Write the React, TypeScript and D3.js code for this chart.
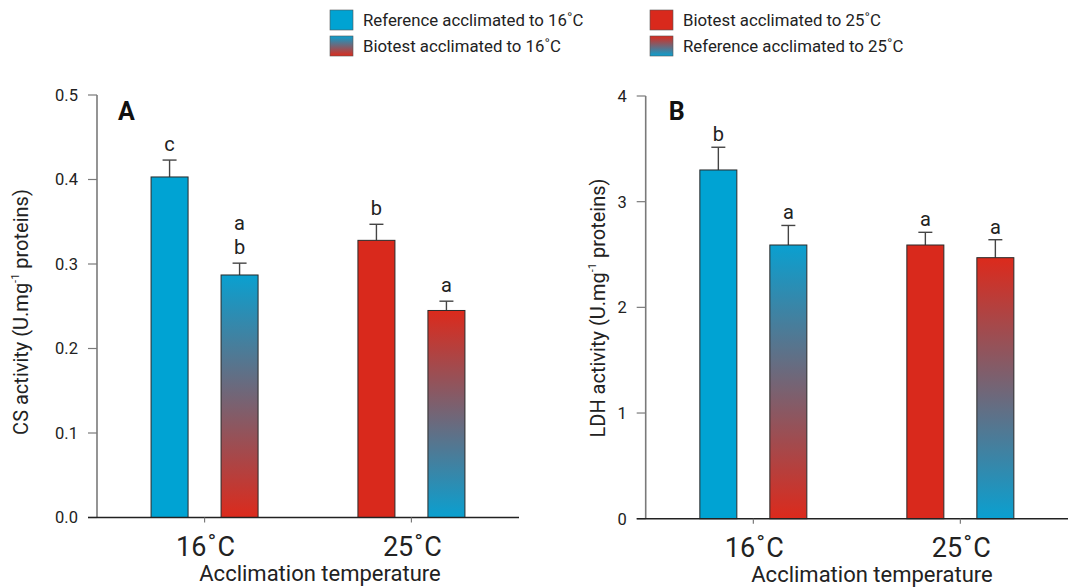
import React from "react";
import * as d3 from "d3";

const categories = ["16˚C", "25˚C"];
const seriesNames = [
  "Reference acclimated to 16˚C",
  "Biotest acclimated to 16˚C",
  "Biotest acclimated to 25˚C",
  "Reference acclimated to 25˚C",
];
// bar order: [16˚C: Ref16, Bio16], [25˚C: Bio25, Ref25]
const barSeries = [0, 1, 2, 3];
const barCategory = [0, 0, 1, 1];
const barSlot = ["left", "right", "left", "right"];

const csMeans = [0.403, 0.287, 0.328, 0.245];
const csErr = [0.02, 0.014, 0.019, 0.011];
const csLetters = [["c"], ["b", "a"], ["b"], ["a"]];
const csTicks = [0, 0.1, 0.2, 0.3, 0.4, 0.5];

const ldhMeans = [3.3, 2.59, 2.59, 2.47];
const ldhErr = [0.215, 0.185, 0.12, 0.17];
const ldhLetters = [["b"], ["a"], ["a"], ["a"]];
const ldhTicks = [0, 1, 2, 3, 4];

const BLUE = "#00a3d3";
const RED = "#d9291c";
const FONT = "Roboto, 'Open Sans', sans-serif";

const fills = [BLUE, "url(#gBlueRed)", RED, "url(#gRedBlue)"];

type PanelProps = {
  letter: string;
  axisX: number;
  axisEnd: number;
  yTop: number;
  yBottom: number;
  yMax: number;
  means: number[];
  errs: number[];
  letters: string[][];
  ticks: number[];
  fmt: (v: number) => string;
  yLabel: string;
  yLabelX: number;
  yLabelY: number;
  xTitleX: number;
  letterGap: number;
};

function Panel(p: PanelProps) {
  const y = d3.scaleLinear().domain([0, p.yMax]).range([p.yBottom, p.yTop]);
  const x0 = d3
    .scalePoint<string>()
    .domain(categories)
    .range([p.axisX, p.axisEnd])
    .padding(0.52);
  const x1 = d3
    .scaleBand<string>()
    .domain(["left", "right"])
    .range([-53.5, 53.5])
    .paddingInner(33 / 70);
  const bw = x1.bandwidth();
  return (
    <g>
      {/* y axis */}
      <line x1={p.axisX} x2={p.axisX} y1={y(p.yMax)} y2={p.yBottom} stroke="#7a7a7a" strokeWidth={1.6} />
      {p.ticks.map((t) => (
        <g key={t}>
          <line x1={p.axisX - 9} x2={p.axisX} y1={y(t)} y2={y(t)} stroke="#7a7a7a" strokeWidth={1.2} />
          <text x={p.axisX - 19} y={y(t)} dy="0.36em" textAnchor="end" fontSize={16.5} fill="#222" fontFamily={FONT}>
            {p.fmt(t)}
          </text>
        </g>
      ))}
      {/* bars */}
      {barSeries.map((s, i) => {
        const cx = (x0(categories[barCategory[i]]) as number) + (x1(barSlot[i]) as number);
        const top = y(p.means[i]);
        const errTop = y(p.means[i] + p.errs[i]);
        const mid = cx + bw / 2;
        return (
          <g key={i}>
            <line x1={mid} x2={mid} y1={top} y2={errTop} stroke="#444" strokeWidth={1.4} />
            <line x1={mid - 7} x2={mid + 7} y1={errTop} y2={errTop} stroke="#444" strokeWidth={1.4} />
            <rect x={cx} y={top} width={bw} height={p.yBottom - top} fill={fills[s]} stroke="#2a2a2a" strokeWidth={1} />
            {p.letters[i].map((l, k) => (
              <text
                key={k}
                x={mid}
                y={errTop - p.letterGap - k * 24}
                textAnchor="middle"
                fontSize={20}
                fill="#222"
                fontFamily={FONT}
              >
                {l}
              </text>
            ))}
          </g>
        );
      })}
      {/* x axis */}
      <line x1={p.axisX - 9} x2={p.axisEnd} y1={p.yBottom} y2={p.yBottom} stroke="#222" strokeWidth={1.6} />
      {categories.map((c) => (
        <g key={c}>
          <line x1={x0(c)} x2={x0(c)} y1={p.yBottom} y2={p.yBottom + 5} stroke="#7a7a7a" strokeWidth={1.2} />
          <text x={(x0(c) as number) + 1} y={p.yBottom + 38} textAnchor="middle" fontSize={27} fill="#222" fontFamily={FONT}>
            {c.slice(0, 2)}
            <tspan dx={1}>˚</tspan>
            <tspan dx={1}>C</tspan>
          </text>
        </g>
      ))}
      <text x={p.xTitleX} y={p.yBottom + 63} textAnchor="middle" fontSize={22} fill="#222" fontFamily={FONT}>
        Acclimation temperature
      </text>
      <text
        transform={`translate(${p.yLabelX},${p.yLabelY}) rotate(-90)`}
        textAnchor="middle"
        fontSize={20}
        fill="#222"
        fontFamily={FONT}
      >
        {p.yLabel} activity (U.mg
        <tspan fontSize={11} dy={-9}>-1</tspan>
        <tspan dy={9}> proteins)</tspan>
      </text>
      <text x={p.axisX + (p.letter === "A" ? 21 : 23)} y={120} fontSize={25} fontWeight="bold" fill="#111" fontFamily={FONT}>
        {p.letter}
      </text>
    </g>
  );
}

export default function App() {
  return (
    <svg
      width={1072}
      height={587}
      style={{ position: "absolute", left: 0, top: 0, background: "#fff" }}
    >
      <defs>
        <linearGradient id="gBlueRed" x1="0" y1="0" x2="0" y2="1">
          <stop offset="0%" stopColor="#0aa0d0" />
          <stop offset="100%" stopColor="#dc2a1c" />
        </linearGradient>
        <linearGradient id="gRedBlue" x1="0" y1="0" x2="0" y2="1">
          <stop offset="0%" stopColor="#dc2a1c" />
          <stop offset="100%" stopColor="#0aa0d0" />
        </linearGradient>
      </defs>
      {/* legend */}
      {seriesNames.map((n, i) => {
        const col = i < 2 ? 0 : 1;
        const row = i % 2;
        const sx = col === 0 ? 330 : 650;
        const sy = row === 0 ? 10 : 36;
        return (
          <g key={n}>
            <rect x={sx} y={sy} width={23} height={20} fill={fills[i]} stroke="#555" strokeWidth={0.6} />
            <text x={sx + 33} y={sy + 15.5} fontSize={16.8} fill="#222" fontFamily={FONT}>
              {n}
            </text>
          </g>
        );
      })}
      <Panel
        letter="A"
        axisX={97}
        axisEnd={519}
        yTop={95}
        yBottom={517.5}
        yMax={0.5}
        means={csMeans}
        errs={csErr}
        letters={csLetters}
        ticks={csTicks}
        fmt={(v) => v.toFixed(1)}
        yLabel="CS"
        yLabelX={28}
        yLabelY={312}
        xTitleX={320}
        letterGap={9}
      />
      <Panel
        letter="B"
        axisX={645.7}
        axisEnd={1068}
        yTop={96}
        yBottom={518.7}
        yMax={4}
        means={ldhMeans}
        errs={ldhErr}
        letters={ldhLetters}
        ticks={ldhTicks}
        fmt={(v) => String(v)}
        yLabel="LDH"
        yLabelX={605}
        yLabelY={308}
        xTitleX={872}
        letterGap={6}
      />
    </svg>
  );
}
